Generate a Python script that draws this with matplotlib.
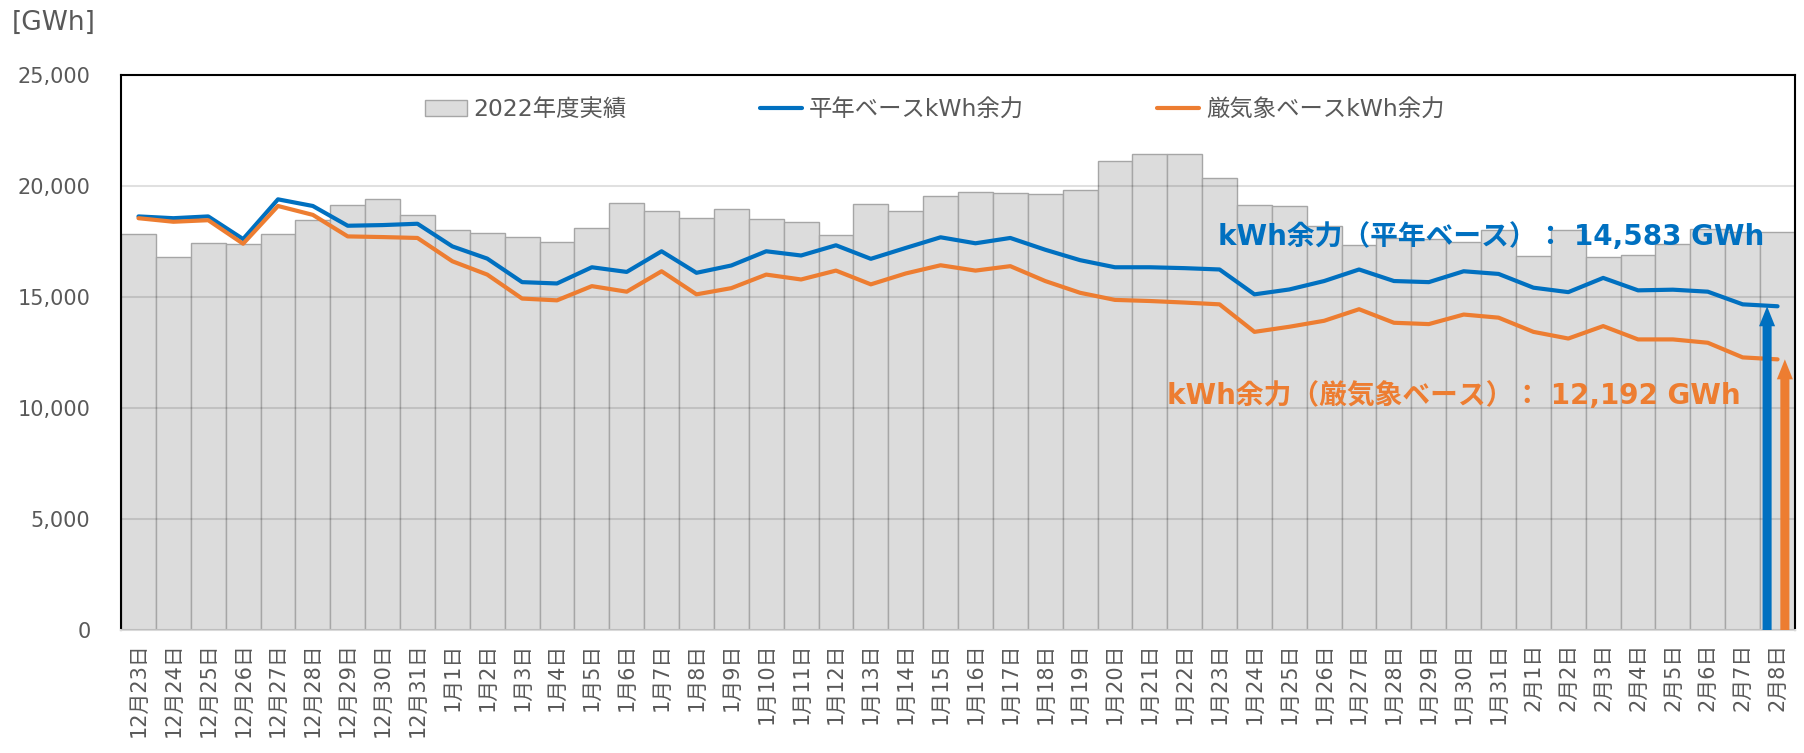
import matplotlib
matplotlib.use('Agg')
import matplotlib.pyplot as plt
import numpy as np

plt.rcParams['font.family'] = ['DejaVu Sans', 'Noto Sans CJK JP']

# dates 12/23 - 2/8
dates = ([f"12月{d}日" for d in range(23, 32)] +
         [f"1月{d}日" for d in range(1, 32)] +
         [f"2月{d}日" for d in range(1, 9)])

# 2022年度実績 [GWh]
actual_2022 = [17850, 16790, 17430, 17390, 17840, 18480, 19130, 19420, 18690,
               18030, 17880, 17700, 17480, 18120, 19240, 18880, 18580, 18960,
               18510, 18360, 17790, 19180, 18870, 19550, 19750, 19700, 19640,
               19840, 21120, 21450, 21450, 20340, 19130, 19090, 18200, 17350,
               17650, 17600, 17500, 18000, 16850, 18000, 16800, 16900, 17400,
               18050, 17950, 17920]

# 平年ベースkWh余力
normal_margin = [18630, 18550, 18630, 17610, 19400, 19100, 18210, 18240, 18300,
                 17280, 16730, 15670, 15610, 16340, 16130, 17060, 16090, 16420,
                 17060, 16870, 17330, 16720, 17210, 17690, 17420, 17660, 17130,
                 16660, 16340, 16340, 16300, 16240, 15120, 15340, 15720, 16240,
                 15720, 15670, 16160, 16040, 15420, 15220, 15860, 15300, 15330,
                 15240, 14670, 14583]

# 厳気象ベースkWh余力
severe_margin = [18550, 18390, 18460, 17400, 19100, 18700, 17730, 17700, 17660,
                 16610, 16010, 14930, 14850, 15490, 15240, 16160, 15120, 15400,
                 16010, 15790, 16190, 15570, 16060, 16430, 16190, 16390, 15720,
                 15190, 14870, 14820, 14750, 14670, 13430, 13660, 13930, 14450,
                 13840, 13780, 14210, 14070, 13430, 13130, 13690, 13090, 13090,
                 12940, 12280, 12192]

blue = '#0070C0'
orange = '#ED7D31'
grey_txt = '#595959'

fig = plt.figure(figsize=(18.04, 7.53), dpi=100)
ax = fig.add_axes([0.0671, 0.1633, 0.9279, 0.7371])

x = np.arange(len(dates))
bars = ax.bar(x, actual_2022, width=1.0, color='#dcdcdc', edgecolor='#a6a6a6',
              linewidth=1.0, label='2022年度実績', zorder=1)
l1, = ax.plot(x, normal_margin, color=blue, lw=3.0, solid_joinstyle='round',
              solid_capstyle='round', label='平年ベースkWh余力', zorder=4)
l2, = ax.plot(x, severe_margin, color=orange, lw=3.0, solid_joinstyle='round',
              solid_capstyle='round', label='厳気象ベースkWh余力', zorder=4)

# arrows at the last day
last = len(dates) - 1
ax.arrow(last - 0.3, 0, 0, normal_margin[-1], width=0.26, head_width=0.46,
         head_length=900, length_includes_head=True, color=blue, lw=0, zorder=5)
ax.arrow(last + 0.21, 0, 0, severe_margin[-1], width=0.26, head_width=0.46,
         head_length=900, length_includes_head=True, color=orange, lw=0, zorder=5)

ax.text(38.78, 17700, f'kWh余力（平年ベース）： {normal_margin[-1]:,} GWh',
        color=blue, fontsize=20, fontweight='bold', ha='center', va='center', zorder=6)
ax.text(37.72, 10540, f'kWh余力（厳気象ベース）： {severe_margin[-1]:,} GWh',
        color=orange, fontsize=20, fontweight='bold', ha='center', va='center', zorder=6)

ax.set_xlim(-0.5, len(dates) - 0.5)
ax.set_ylim(0, 25000)
ax.set_yticks(range(0, 25001, 5000))
ax.set_yticklabels([f"{v:,}" for v in range(0, 25001, 5000)])
ax.set_xticks(x)
ax.set_xticklabels(dates, rotation=90)
ax.tick_params(axis='x', length=0, pad=9, labelsize=15, labelcolor=grey_txt)
ax.tick_params(axis='y', length=0, pad=22, labelsize=15, labelcolor=grey_txt)

ax.set_axisbelow(False)
ax.yaxis.grid(True, color='black', alpha=0.12, lw=1.5)
ax.xaxis.grid(False)

for s in ['left', 'top', 'right']:
    ax.spines[s].set_color('black')
    ax.spines[s].set_linewidth(1.5)
ax.spines['bottom'].set_color('#d9d9d9')
ax.spines['bottom'].set_linewidth(1.5)

ax.legend(handles=[bars, l1, l2], loc='center', bbox_to_anchor=(0.486, 0.937),
          ncol=3, frameon=False, fontsize=16.8, columnspacing=5.7,
          handlelength=1.8, handletextpad=0.3, labelcolor=grey_txt)

fig.text(12 / 1804, 1 - 23 / 753, '[GWh]', fontsize=19, color=grey_txt,
         ha='left', va='center')

fig.savefig('out.png', dpi=100)
